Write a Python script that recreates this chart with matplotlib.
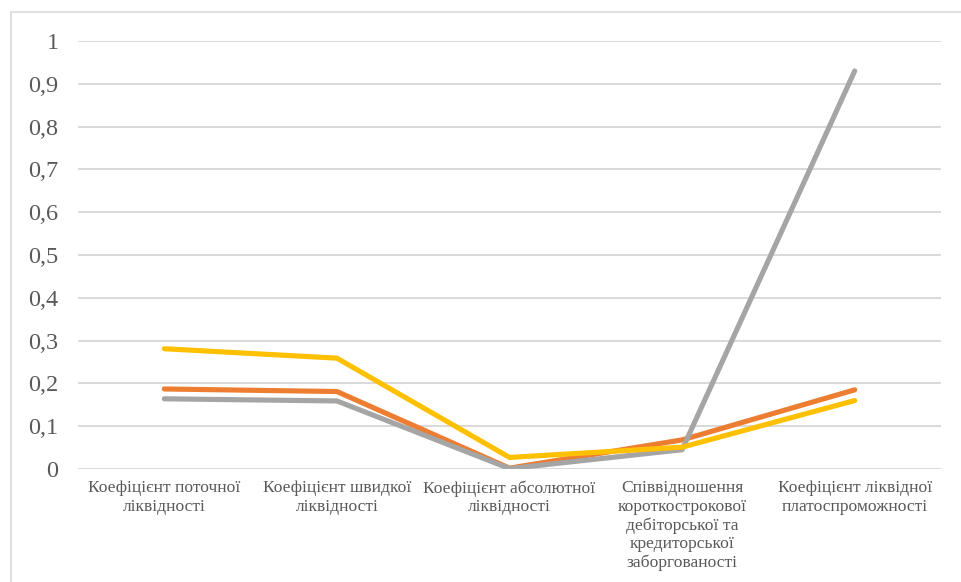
import matplotlib
matplotlib.use("Agg")
import matplotlib.pyplot as plt
from matplotlib.patches import Rectangle
from matplotlib.ticker import FuncFormatter

plt.rcParams["font.family"] = ["Liberation Serif", "DejaVu Serif"]

categories = [
    "Коефіцієнт поточної\nліквідності",
    "Коефіцієнт швидкої\nліквідності",
    "Коефіцієнт абсолютної\nліквідності",
    "Співвідношення\nкороткострокової\nдебіторської та\nкредиторської\nзаборгованості",
    "Коефіцієнт ліквідної\nплатоспроможності",
]
series_orange = [0.187, 0.181, 0.002, 0.068, 0.185]
series_gray = [0.164, 0.159, 0.001, 0.045, 0.930]
series_yellow = [0.281, 0.259, 0.027, 0.051, 0.160]

fig = plt.figure(figsize=(9.61, 5.82), dpi=100)
# outer chart border (cropped at right/bottom)
fig.patches.append(Rectangle((11 / 961, -0.05), 1.1, 1 - 11.5 / 582 + 0.05,
                             transform=fig.transFigure, fill=False,
                             edgecolor="#d9d9d9", linewidth=1.2))

ax = fig.add_axes([78 / 961, 1 - 469 / 582, (941 - 78) / 961, (469 - 41) / 582])
x = list(range(len(categories)))
ax.plot(x, series_orange, color="#ED7D31", linewidth=3.7, solid_capstyle="round")
ax.plot(x, series_gray, color="#A5A5A5", linewidth=3.7, solid_capstyle="round")
ax.plot(x, series_yellow, color="#FFC000", linewidth=3.7, solid_capstyle="round")

ax.set_xlim(-0.5, 4.5)
ax.set_ylim(0, 1)
ax.set_yticks([i / 10 for i in range(11)])
ax.yaxis.set_major_formatter(FuncFormatter(
    lambda v, p: "0" if abs(v) < 1e-9 else ("1" if abs(v - 1) < 1e-9 else f"{v:.1f}".replace(".", ","))))
ax.set_xticks(x)
ax.set_xticklabels(categories, fontsize=12.6, color="#595959", linespacing=1.2)
ax.tick_params(axis="y", length=0, pad=14, labelsize=17.5, labelcolor="#595959")
ax.tick_params(axis="x", length=0, pad=8)
ax.grid(axis="y", color="#d9d9d9", linewidth=1.4)
ax.set_axisbelow(True)
for s in ax.spines.values():
    s.set_visible(False)

fig.savefig("out.png", dpi=100)
